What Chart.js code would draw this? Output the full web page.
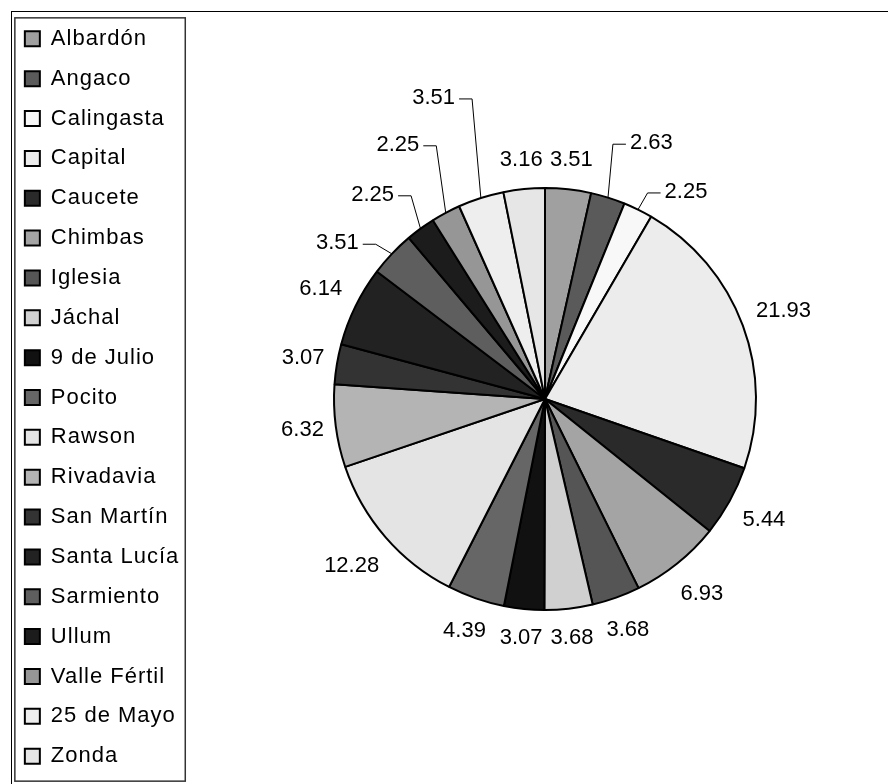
<!DOCTYPE html>
<html>
<head>
<meta charset="utf-8">
<script src="https://cdn.jsdelivr.net/npm/chart.js@4.4.0/dist/chart.umd.min.js"></script>
<style>
  html, body { margin: 0; padding: 0; background: #fff; overflow: hidden; }
  /* canvas runs a little past the window so the pie can sit right of centre */
  #wrap { position: relative; width: 920px; height: 800px; }
</style>
</head>
<body>
<div id="wrap"><canvas id="pie"></canvas></div>
<script>
// San Juan departments, share in %
var departamentos = ["Albardón", "Angaco", "Calingasta", "Capital", "Caucete", "Chimbas",
  "Iglesia", "Jáchal", "9 de Julio", "Pocito", "Rawson", "Rivadavia", "San Martín",
  "Santa Lucía", "Sarmiento", "Ullum", "Valle Fértil", "25 de Mayo", "Zonda"];
var porcentajes = [3.51, 2.63, 2.25, 21.93, 5.44, 6.93, 3.68, 3.68, 3.07, 4.39,
  12.28, 6.32, 3.07, 6.14, 3.51, 2.25, 2.25, 3.51, 3.16];
var grises = ["#a0a0a0", "#5a5a5a", "#f8f8f8", "#ececec", "#2a2a2a", "#a4a4a4",
  "#555555", "#d0d0d0", "#111111", "#666666", "#e4e4e4", "#b4b4b4", "#333333",
  "#222222", "#5e5e5e", "#1c1c1c", "#969696", "#eeeeee", "#e6e6e6"];

// crowded labels get moved out and tied back with a leader line
// (angle shift in degrees, distance beyond the rim in px)
var leaderShift = [0, 5.2, 8.1, 0, 0, 0, 0, 0, 0, 0, 0, 0, 0, 0, -6.6, -4.0, -2.0, -2.6, 0];
var leaderLift  = [0, 66, 39.5, 0, 0, 0, 0, 0, 0, 0, 0, 0, 0, 0, 48.6, 56.2, 82.7, 110, 0];

var FAMILIA = "'Liberation Sans', Arial, sans-serif";
var CX = 545, CY = 399;

var spacingPlugin = {
  id: "spacing",
  beforeUpdate: function(chart) { chart.ctx.letterSpacing = "1px"; },
  beforeDraw: function(chart) { chart.ctx.letterSpacing = "1px"; }
};

var framePlugin = {
  id: "frame",
  afterDraw: function(chart) {
    var ctx = chart.ctx, lg = chart.legend;
    var p = lg.options.labels.padding, fs = lg.options.labels.font.size;
    var maxW = 0;
    lg.legendHitBoxes.forEach(function(b) { maxW = Math.max(maxW, b.width); });
    var n = lg.legendItems.length;
    var x0 = lg.left + p - 10, y0 = lg.top + p - 10;
    var y1 = lg.top + p + (n - 1) * (fs + p) + fs + 14;
    var x1 = lg.left + p + maxW + 6;
    ctx.save();
    ctx.strokeStyle = "#000";
    ctx.lineWidth = 1;
    ctx.strokeRect(11.5, 11.5, 1000, 1000);
    ctx.strokeStyle = "#333";
    ctx.lineWidth = 1.5;
    ctx.strokeRect(x0, y0, x1 - x0, y1 - y0);
    ctx.restore();
  }
};

var labelPlugin = {
  id: "sliceLabels",
  afterDatasetsDraw: function(chart) {
    var ctx = chart.ctx;
    var arcs = chart.getDatasetMeta(0).data;
    ctx.save();
    ctx.font = "22px " + FAMILIA;
    ctx.letterSpacing = "0px";
    ctx.fillStyle = "#000";
    ctx.strokeStyle = "#000";
    ctx.lineWidth = 1;
    ctx.textAlign = "center";
    ctx.textBaseline = "middle";
    arcs.forEach(function(arc, i) {
      var txt = porcentajes[i].toFixed(2);
      var w = ctx.measureText(txt).width;
      var mid = (arc.startAngle + arc.endAngle) / 2;
      var r = arc.outerRadius;
      var lx, ly;
      if (leaderLift[i]) {
        var a = mid + leaderShift[i] * Math.PI / 180;
        lx = arc.x + Math.cos(a) * (r + leaderLift[i]);
        ly = arc.y + Math.sin(a) * (r + leaderLift[i]);
        var side = lx < arc.x ? 1 : -1;
        ctx.beginPath();
        ctx.moveTo(lx + side * (w / 2 + 4), ly + 1);
        ctx.lineTo(lx + side * (w / 2 + 17), ly + 1);
        ctx.lineTo(arc.x + Math.cos(mid) * r, arc.y + Math.sin(mid) * r);
        ctx.stroke();
      } else {
        var d = r + Math.abs(Math.cos(mid)) * (w / 2 + 9) + Math.abs(Math.sin(mid)) * 26;
        lx = arc.x + Math.cos(mid) * d;
        ly = arc.y + Math.sin(mid) * d;
      }
      ctx.fillText(txt, lx, ly);
    });
    ctx.restore();
  }
};

var chart = new Chart(document.getElementById("pie"), {
  type: "pie",
  data: {
    labels: departamentos,
    datasets: [{
      data: porcentajes,
      backgroundColor: grises,
      borderColor: "#000",
      borderWidth: 2,
      radius: 211
    }]
  },
  options: {
    responsive: true,
    maintainAspectRatio: false,
    animation: false,
    events: [],
    layout: { padding: { left: 7, top: 10, bottom: 0, right: 0 } },
    plugins: {
      legend: {
        position: "left",
        align: "start",
        labels: {
          boxWidth: 15,
          boxHeight: 15,
          padding: 17.85,
          color: "#000",
          font: { family: FAMILIA, size: 22 }
        }
      },
      tooltip: { enabled: false }
    }
  },
  plugins: [spacingPlugin, labelPlugin, framePlugin]
});

// move the pie centre onto (CX, CY) with the right / bottom padding
for (var k = 0; k < 2; k++) {
  var arc0 = chart.getDatasetMeta(0).data[0];
  var pad = chart.options.layout.padding;
  pad.right = Math.max(0, pad.right + 2 * (arc0.x - CX));
  pad.bottom = Math.max(0, pad.bottom + 2 * (arc0.y - CY));
  chart.update("none");
}
</script>
</body>
</html>
